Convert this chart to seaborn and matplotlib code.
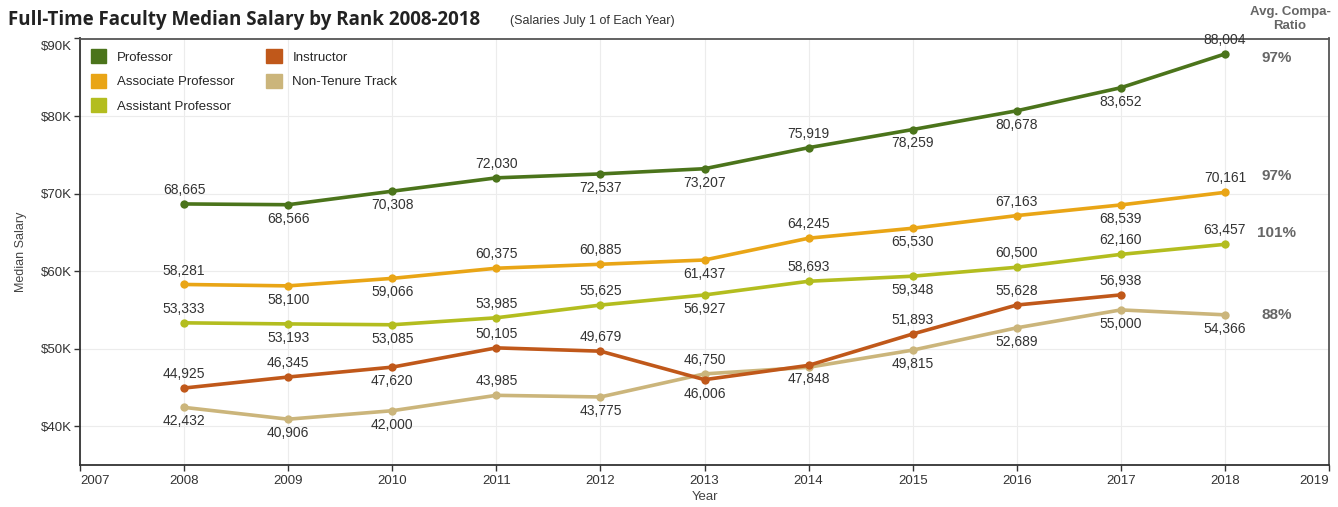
import numpy as np
import pandas as pd
import matplotlib
matplotlib.use("Agg")
import matplotlib.pyplot as plt
import seaborn as sns
from matplotlib.patches import Patch

years = list(range(2008, 2019))
professor = [68665, 68566, 70308, 72030, 72537, 73207, 75919, 78259, 80678, 83652, 88004]
associate = [58281, 58100, 59066, 60375, 60885, 61437, 64245, 65530, 67163, 68539, 70161]
assistant = [53333, 53193, 53085, 53985, 55625, 56927, 58693, 59348, 60500, 62160, 63457]
instructor = [44925, 46345, 47620, 50105, 49679, 46006, 47848, 51893, 55628, 56938, np.nan]
nontenure = [42432, 40906, 42000, 43985, 43775, 46750, 47600, 49815, 52689, 55000, 54366]

# label placement: 1 above, -1 below, 0 none
prof_pos = [1, -1, -1, 1, -1, -1, 1, -1, -1, -1, 1]
assoc_pos = [1, -1, -1, 1, 1, -1, 1, -1, 1, -1, 1]
asst_pos = [1, -1, -1, 1, 1, -1, 1, -1, 1, 1, 1]
instr_pos = [1, 1, -1, 1, 1, -1, -1, 1, 1, 1, 0]
nt_pos = [-1, -1, -1, 1, -1, 1, 0, -1, -1, -1, -1]

compa_labels = ["97%", "97%", "101%", "88%"]
compa_y = [87500, 72300, 64900, 54400]

x_ticks = list(range(2007, 2020))
y_ticks = [40000, 50000, 60000, 70000, 80000, 90000]
y_tick_labels = ["$40K", "$50K", "$60K", "$70K", "$80K", "$90K"]

colors = {
    "Professor": "#4b741b",
    "Associate Professor": "#e9a516",
    "Assistant Professor": "#b3bd1f",
    "Instructor": "#c0581a",
    "Non-Tenure Track": "#cbb57b",
}
series = {
    "Professor": (professor, prof_pos),
    "Associate Professor": (associate, assoc_pos),
    "Assistant Professor": (assistant, asst_pos),
    "Instructor": (instructor, instr_pos),
    "Non-Tenure Track": (nontenure, nt_pos),
}

rows = []
for name, (vals, _) in series.items():
    for y, v in zip(years, vals):
        rows.append({"Year": y, "Rank": name, "Salary": v})
df = pd.DataFrame(rows)

sns.set_theme(style="white")
plt.rcParams["font.family"] = ["Liberation Sans", "DejaVu Sans"]

fig = plt.figure(figsize=(13.38, 5.07), dpi=100)
ax = fig.add_axes([80 / 1338, 1 - 465 / 507, (1329 - 80) / 1338, (465 - 38.5) / 507])

draw_order = ["Non-Tenure Track", "Instructor", "Assistant Professor", "Associate Professor", "Professor"]
for name in draw_order:
    sub = df[df["Rank"] == name].dropna()
    sns.lineplot(data=sub, x="Year", y="Salary", ax=ax, color=colors[name], lw=2.6,
                 marker="o", markersize=6, markeredgewidth=0, legend=False)

for name, (vals, pos) in series.items():
    for y, v, p in zip(years, vals, pos):
        if p == 0 or np.isnan(v):
            continue
        ax.annotate(f"{int(v):,}", (y, v), xytext=(0, 10 * p), textcoords="offset points",
                    ha="center", va="center", fontsize=10, color="#333333")

for lab, yv in zip(compa_labels, compa_y):
    ax.text(2018.5, yv, lab, ha="center", va="center", fontsize=11, fontweight="bold", color="#666666")

ax.set_xlim(2007, 2019)
ax.set_ylim(35000, 90000)
ax.set_xticks(x_ticks)
ax.set_xticklabels([str(y) for y in x_ticks])
lbls = ax.get_xticklabels()
lbls[0].set_ha("left")
lbls[-1].set_ha("right")
ax.set_yticks(y_ticks)
# the top label sits a little below its tick, as in the reference
ax.set_yticklabels(y_tick_labels[:-1] + [""])
ax.annotate(y_tick_labels[-1], (0, y_ticks[-1]), xycoords=("axes fraction", "data"),
            xytext=(-6, -6), textcoords="offset points", ha="right", va="center",
            fontsize=9.5, color="#333333")
ax.grid(True, color="#ececec", lw=0.8)
ax.tick_params(axis="both", labelsize=9.5, colors="#333333", length=4, width=1, direction="out")
ax.tick_params(axis="x", bottom=True, pad=3)
ax.tick_params(axis="y", left=True, pad=2)
for s in ["left", "bottom"]:
    ax.spines[s].set_color("#333333")
    ax.spines[s].set_linewidth(1.3)
for s in ["top", "right"]:
    ax.spines[s].set_color("#555555")
    ax.spines[s].set_linewidth(1.3)
ax.set_xlabel("Year", fontsize=9.5, color="#444444", labelpad=3)
ax.set_ylabel("Median Salary", fontsize=9, color="#444444", labelpad=10)

leg_order = ["Professor", "Associate Professor", "Assistant Professor", "Instructor", "Non-Tenure Track"]
handles = [Patch(facecolor=colors[n], edgecolor=colors[n]) for n in leg_order]
ax.legend(handles, leg_order, loc="upper left", ncol=2, frameon=False, fontsize=9.5,
          handlelength=1.2, handleheight=1.3, borderaxespad=0.4, columnspacing=2.4,
          labelspacing=0.75, bbox_to_anchor=(0.0, 1.0))

fig.text(8 / 1338, 1 - 20 / 507, "Full-Time Faculty Median Salary by Rank 2008-2018",
         fontsize=13.5, fontweight="bold", color="#222222", va="center", ha="left",
         family=["Open Sans", "DejaVu Sans"])
fig.text(510 / 1338, 1 - 21 / 507, "(Salaries July 1 of Each Year)", fontsize=9,
         color="#333333", va="center", ha="left")
fig.text(1290 / 1338, 1 - 19 / 507, "Avg. Compa-\nRatio", fontsize=9.5, fontweight="bold",
         color="#666666", va="center", ha="center", linespacing=1.3)

fig.savefig("out.png", dpi=100)
